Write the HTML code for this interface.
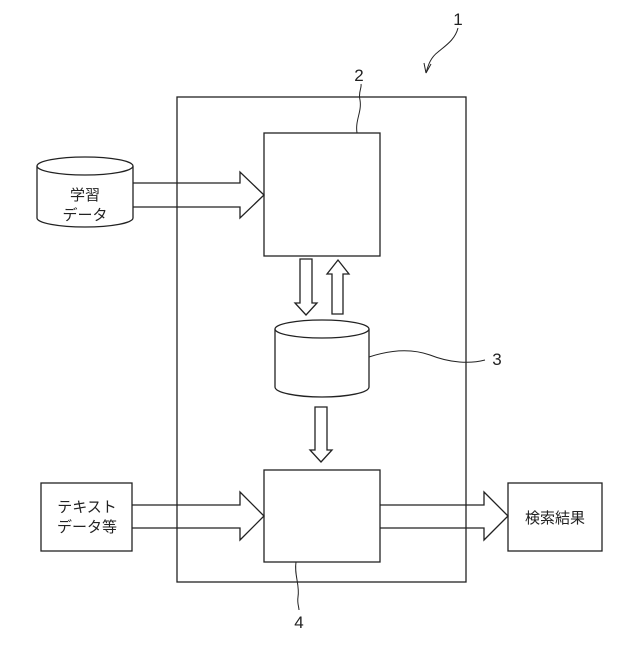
<!DOCTYPE html>
<html><head><meta charset="utf-8"><style>body{margin:0;background:#fff}</style></head><body>
<svg width="640" height="640" viewBox="0 0 640 640" xmlns="http://www.w3.org/2000/svg" font-family="Liberation Sans, Noto Sans CJK JP, sans-serif">
<g fill="none" stroke="#222" stroke-width="1.3">
<rect x="177" y="97" width="289" height="485"/>
<rect x="264" y="133" width="116" height="123" fill="#fff"/>
<rect x="264" y="470" width="116" height="92" fill="#fff"/>
<rect x="41" y="483" width="91" height="68"/>
<rect x="508" y="483" width="94" height="68"/>
<!-- cylinder left -->
<path d="M37 166 V218 A48 9 0 0 0 133 218 V166" fill="#fff"/>
<ellipse cx="85" cy="166" rx="48" ry="9" fill="#fff"/>
<!-- cylinder 3 -->
<path d="M275 329 V387 A47 10 0 0 0 369 387 V329" fill="#fff"/>
<ellipse cx="322" cy="329" rx="47" ry="9" fill="#fff"/>
<!-- arrows -->
<path d="M133 183 H240 V172 L264 195 L240 218 V207 H133"/>
<path d="M132 505 H240 V492 L264 516 L240 540 V528 H132"/>
<path d="M380 505 H484 V492 L508 516 L484 540 V528 H380"/>
<path d="M300 259 V303 H295 L306 315 L317 303 H312 V259 Z"/>
<path d="M332 314 V274 H327 L338 260 L349 274 H343 V314 Z"/>
<path d="M315 407 V450 H310 L321 462 L332 450 H327 V407 Z"/>
<!-- leaders -->
<path d="M369 357 C390 350 410 348 430 355 C450 363 470 364 485 360" stroke-width="1"/>
<path d="M357 133 C355 120 362 112 360 100 C358 92 362 88 361 84" stroke-width="1"/>
<path d="M296 562 C294 575 300 585 298 597 C297 603 299 607 299 610" stroke-width="1"/>
<path d="M458 28 C455 40 445 46 438 52 C430 58 428 66 426 73" stroke-width="1"/>
<path d="M426 73 L424 63 M426 73 L431 64" stroke-width="1"/>
</g>
<g fill="#222" font-size="15" text-anchor="middle">
<text x="85" y="200">学習</text>
<text x="85" y="220">データ</text>
<text x="87" y="512">テキスト</text>
<text x="87" y="532">データ等</text>
<text x="555" y="523">検索結果</text>
<text x="458" y="25" font-size="17">1</text>
<text x="359" y="81" font-size="17">2</text>
<text x="497" y="365" font-size="17">3</text>
<text x="299" y="628" font-size="17">4</text>
</g>
</svg>
</body></html>
